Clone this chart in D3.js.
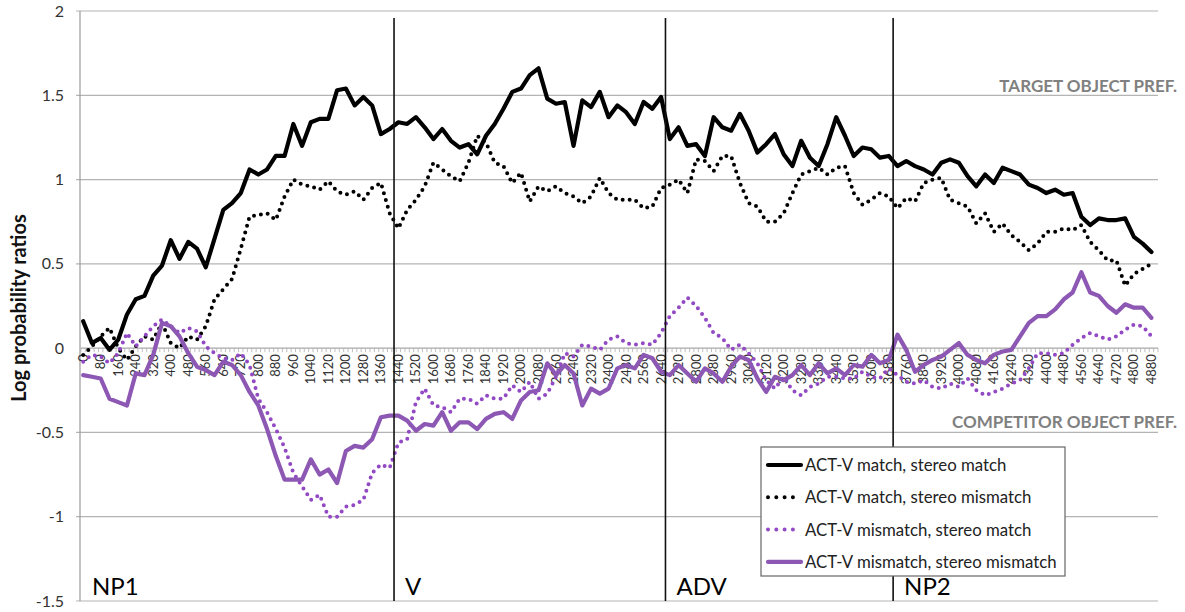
<!DOCTYPE html>
<html>
<head>
<meta charset="utf-8">
<script src="https://cdn.jsdelivr.net/npm/d3@7"></script>
<style>
  body { margin: 0; background: #fff; }
  text { font-family: Lato, "Open Sans", sans-serif; }
</style>
</head>
<body>
<script>
// time points (ms) of the plotted samples
const timeMs = d3.range(0, 4881, 40)

// ACT-V match, stereo match
const matchMatch = [
  0.16, 0.03, 0.06, -0.01, 0.05, 0.2, 0.29, 0.31, 0.43, 0.49, 0.64, 0.53, 0.63, 0.59, 0.48, 0.65,
  0.82, 0.86, 0.92, 1.06, 1.03, 1.06, 1.14, 1.14, 1.33, 1.2, 1.34, 1.36, 1.36, 1.53, 1.54,
  1.44, 1.49, 1.44, 1.27, 1.30, 1.34, 1.33, 1.37, 1.31, 1.24, 1.30, 1.23, 1.19, 1.21, 1.15, 1.26,
  1.33, 1.42, 1.52, 1.54, 1.62, 1.66, 1.48, 1.45, 1.46, 1.2, 1.47, 1.43, 1.52, 1.37, 1.44,
  1.40, 1.33, 1.46, 1.42, 1.49, 1.24, 1.31, 1.2, 1.21, 1.14, 1.37, 1.31, 1.29, 1.39, 1.29,
  1.16, 1.21, 1.27, 1.15, 1.08, 1.23, 1.13, 1.08, 1.21, 1.37, 1.26, 1.14, 1.19, 1.18, 1.13,
  1.14, 1.08, 1.11, 1.08, 1.06, 1.03, 1.10, 1.12, 1.10, 1.02, 0.96, 1.03, 0.98, 1.07, 1.05, 1.03,
  0.97, 0.95, 0.92, 0.94, 0.91, 0.92, 0.78, 0.73, 0.77, 0.76, 0.76, 0.77, 0.66, 0.62, 0.57
]

// ACT-V match, stereo mismatch
const matchMismatch = [
  -0.04, 0.01, 0.07, 0.12, 0.0, -0.07, 0.01, 0.07, 0.05, 0.15, 0.03, 0.0, 0.07, 0.05, 0.13, 0.29,
  0.35, 0.41, 0.59, 0.78, 0.79, 0.80, 0.76, 0.9, 1.0, 0.97, 0.96, 0.94, 0.99, 0.93, 0.91,
  0.93, 0.88, 0.95, 0.98, 0.8, 0.71, 0.82, 0.88, 0.96, 1.10, 1.06, 1.02, 0.99, 1.10, 1.26, 1.22,
  1.1, 1.08, 0.98, 1.04, 0.87, 0.96, 0.93, 0.96, 0.92, 0.9, 0.86, 0.90, 1.01, 0.92, 0.88,
  0.88, 0.88, 0.83, 0.84, 0.95, 0.97, 1.0, 0.92, 1.12, 1.11, 1.05, 1.14, 1.14, 0.98, 0.86,
  0.84, 0.75, 0.75, 0.80, 0.92, 1.03, 1.05, 1.07, 1.03, 1.07, 1.08, 0.92, 0.85, 0.88, 0.92,
  0.90, 0.83, 0.89, 0.87, 0.98, 1.0, 1.01, 0.88, 0.86, 0.84, 0.74, 0.80, 0.69, 0.74, 0.67, 0.63,
  0.58, 0.62, 0.69, 0.69, 0.71, 0.70, 0.73, 0.63, 0.58, 0.52, 0.52, 0.37, 0.44, 0.47, 0.50
]

// ACT-V mismatch, stereo match
const mismatchMatch = [
  -0.08, -0.04, -0.05, -0.09, -0.03, 0.09, 0.01, 0.07, 0.13, 0.17, 0.13, 0.09, 0.12, 0.10, 0.01, -0.03,
  -0.06, -0.07, -0.03, -0.1, -0.3, -0.38, -0.48, -0.59, -0.74, -0.82, -0.9, -0.87, -1.0, -1.0, -0.94,
  -0.93, -0.9, -0.74, -0.69, -0.71, -0.56, -0.54, -0.32, -0.24, -0.34, -0.35, -0.38, -0.30, -0.30, -0.33, -0.28,
  -0.30, -0.30, -0.22, -0.26, -0.2, -0.3, -0.27, -0.17, -0.03, -0.05, 0.02, 0.01, -0.01, 0.05, 0.07,
  0.03, 0.02, 0.03, 0.02, 0.09, 0.19, 0.24, 0.3, 0.25, 0.18, 0.09, 0.06, -0.01, 0.02, -0.03,
  -0.09, -0.19, -0.24, -0.17, -0.25, -0.28, -0.23, -0.21, -0.17, -0.17, -0.18, -0.18, -0.14, -0.17, -0.18,
  -0.12, -0.16, -0.2, -0.21, -0.19, -0.23, -0.24, -0.21, -0.23, -0.18, -0.25, -0.28, -0.26, -0.24, -0.21, -0.19,
  -0.12, -0.03, -0.03, -0.04, -0.03, 0.02, 0.06, 0.09, 0.07, 0.05, 0.07, 0.11, 0.14, 0.13, 0.07
]

// ACT-V mismatch, stereo mismatch
const mismatchMismatch = [
  -0.16, -0.17, -0.18, -0.3, -0.32, -0.34, -0.15, -0.16, -0.04, 0.15, 0.13, 0.07, -0.03, -0.11, -0.13, -0.16,
  -0.08, -0.1, -0.16, -0.26, -0.34, -0.48, -0.64, -0.78, -0.78, -0.78, -0.66, -0.75, -0.72, -0.8, -0.61,
  -0.58, -0.59, -0.54, -0.41, -0.4, -0.4, -0.43, -0.49, -0.45, -0.46, -0.38, -0.49, -0.44, -0.44, -0.48, -0.42,
  -0.39, -0.38, -0.42, -0.31, -0.26, -0.25, -0.09, -0.16, -0.10, -0.15, -0.34, -0.24, -0.27, -0.24, -0.12,
  -0.10, -0.12, -0.04, -0.06, -0.14, -0.16, -0.10, -0.15, -0.2, -0.12, -0.15, -0.2, -0.11, -0.05, -0.07,
  -0.18, -0.26, -0.17, -0.19, -0.16, -0.10, -0.16, -0.09, -0.15, -0.12, -0.16, -0.10, -0.11, -0.04, -0.09,
  -0.07, 0.08, -0.01, -0.14, -0.10, -0.07, -0.05, -0.01, 0.03, -0.04, -0.07, -0.09, -0.04, -0.02, -0.01, 0.07,
  0.15, 0.19, 0.19, 0.23, 0.29, 0.33, 0.45, 0.33, 0.31, 0.25, 0.21, 0.26, 0.24, 0.24, 0.18
]

const seriesNames = [
  'ACT-V match, stereo match',
  'ACT-V match, stereo mismatch',
  'ACT-V mismatch, stereo match',
  'ACT-V mismatch, stereo mismatch'
]
const yTicks = [2, 1.5, 1, 0.5, 0, -0.5, -1, -1.5]
const xLabelTicks = d3.range(0, 4881, 80)
const xMinorTicks = d3.range(-10, 4911, 20)
const regionStarts = [1420, 2660, 3700]
const regionNames = ['NP1', 'V', 'ADV', 'NP2']
const regionLabelAt = [40, 1470, 2710, 3750]

const width = 1185
const height = 612
const plot = { left: 81, right: 1158, top: 11, bottom: 601 }

const svg = d3.select('body').append('svg')
  .attr('width', width)
  .attr('height', height)

const x = d3.scaleLinear().domain([-10, 4910]).range([plot.left, plot.right])
const y = d3.scaleLinear().domain([-1.5, 2]).range([plot.bottom, plot.top])

// gridlines
svg.append('g')
  .selectAll('line')
  .data(yTicks)
  .join('line')
  .attr('x1', plot.left - 5)
  .attr('x2', plot.right)
  .attr('y1', d => y(d))
  .attr('y2', d => y(d))
  .attr('stroke', d => d === 0 ? 'none' : '#b4b4b4')
  .attr('stroke-width', 1.2)

// y axis line
svg.append('line')
  .attr('x1', plot.left - 1).attr('x2', plot.left - 1)
  .attr('y1', plot.top).attr('y2', plot.bottom)
  .attr('stroke', '#9a9a9a').attr('stroke-width', 1.2)

svg.append('g')
  .selectAll('text')
  .data(yTicks)
  .join('text')
  .attr('x', 64)
  .attr('y', d => y(d) + 5.5)
  .attr('text-anchor', 'end')
  .attr('font-size', 16)
  .attr('fill', '#333')
  .text(d => d)

svg.append('text')
  .attr('transform', `translate(26,${308}) rotate(-90)`)
  .attr('text-anchor', 'middle')
  .attr('font-size', 20)
  .attr('font-weight', 'bold')
  .attr('fill', '#111')
  .text('Log probability ratios')

// x axis at zero
const y0 = y(0)
svg.append('line')
  .attr('x1', plot.left).attr('x2', plot.right)
  .attr('y1', y0).attr('y2', y0)
  .attr('stroke', '#a8a8a8').attr('stroke-width', 1.2)

svg.append('g')
  .selectAll('line')
  .data(xMinorTicks)
  .join('line')
  .attr('x1', d => x(d)).attr('x2', d => x(d))
  .attr('y1', y0).attr('y2', y0 + 4)
  .attr('stroke', '#b0b0b0').attr('stroke-width', 0.8)

svg.append('g')
  .selectAll('text')
  .data(xLabelTicks)
  .join('text')
  .attr('transform', d => `translate(${x(d) + 4.5},${y0 + 6}) rotate(-90)`)
  .attr('text-anchor', 'end')
  .attr('font-size', 13)
  .attr('fill', '#333')
  .text(d => d)

// series
const line = d3.line()
  .x((d, i) => x(timeMs[i]))
  .y(d => y(d))

const seriesStyles = [
  { values: matchMatch, color: '#000', width: 4.2, dash: null },
  { values: matchMismatch, color: '#000', width: 4, dash: '0 7' },
  { values: mismatchMatch, color: '#9249c4', width: 4, dash: '0 7' },
  { values: mismatchMismatch, color: '#8c58b3', width: 4.2, dash: null }
]

seriesStyles.forEach(s => {
  svg.append('path')
    .datum(s.values)
    .attr('d', line)
    .attr('fill', 'none')
    .attr('stroke', s.color)
    .attr('stroke-width', s.width)
    .attr('stroke-linecap', 'round')
    .attr('stroke-linejoin', 'round')
    .attr('stroke-dasharray', s.dash)
})

// region boundaries
svg.append('g')
  .selectAll('line')
  .data(regionStarts)
  .join('line')
  .attr('x1', d => x(d)).attr('x2', d => x(d))
  .attr('y1', 18).attr('y2', plot.bottom)
  .attr('stroke', '#111').attr('stroke-width', 1.6)

svg.append('g')
  .selectAll('text')
  .data(regionNames)
  .join('text')
  .attr('x', (d, i) => x(regionLabelAt[i]))
  .attr('y', 595)
  .attr('font-size', 24)
  .attr('fill', '#000')
  .text(d => d)

// preference labels
svg.append('text')
  .attr('x', 1177).attr('y', 92)
  .attr('text-anchor', 'end')
  .attr('font-size', 17).attr('font-weight', 'bold')
  .attr('fill', '#808080')
  .text('TARGET OBJECT PREF.')

svg.append('text')
  .attr('x', 1177).attr('y', 428)
  .attr('text-anchor', 'end')
  .attr('font-size', 17).attr('font-weight', 'bold')
  .attr('fill', '#808080')
  .text('COMPETITOR OBJECT PREF.')

// legend
const legend = svg.append('g')
legend.append('rect')
  .attr('x', 761).attr('y', 447)
  .attr('width', 304).attr('height', 129)
  .attr('fill', '#fff')
  .attr('stroke', '#666').attr('stroke-width', 1.2)

seriesStyles.forEach((s, i) => {
  const ly = 465 + i * 32.3
  legend.append('line')
    .attr('x1', 768).attr('x2', 801)
    .attr('y1', ly).attr('y2', ly)
    .attr('stroke', s.color)
    .attr('stroke-width', s.width)
    .attr('stroke-linecap', 'round')
    .attr('stroke-dasharray', s.dash ? '0 8.3' : null)
  legend.append('text')
    .attr('x', 805).attr('y', ly + 6)
    .attr('font-size', 16.8)
    .attr('fill', '#222')
    .text(seriesNames[i])
})
</script>
</body>
</html>
